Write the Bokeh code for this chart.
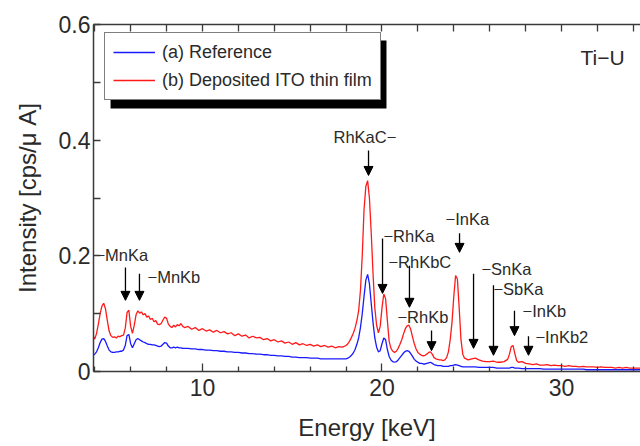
from bokeh.plotting import figure
from bokeh.models import (Range1d, LinearAxis, FixedTicker, Legend, LegendItem,
                          Label, Arrow, NormalHead, ColumnDataSource, BoxAnnotation)
from bokeh.core.properties import value
from bokeh.embed import file_html
from bokeh.resources import INLINE

# ---- XRF spectra (intensity in cps/uA), split into energy segments ----
energy_low = [3.9, 4.0, 4.1, 4.2, 4.3, 4.4, 4.5, 4.6, 4.7, 4.8,
              4.9, 5.0, 5.1, 5.2, 5.3, 5.4, 5.5, 5.6, 5.7, 5.8,
              5.9, 6.0, 6.1, 6.2, 6.3, 6.4, 6.5, 6.6, 6.7, 6.8,
              6.9, 7.0, 7.1, 7.2, 7.3, 7.4, 7.5, 7.6, 7.7, 7.8,
              7.9, 8.0, 8.1, 8.2, 8.3, 8.4, 8.5, 8.6, 8.7, 8.8,
              8.9, 9.0]
deposited_low = [0.062, 0.056, 0.066, 0.082, 0.100, 0.113, 0.118, 0.108, 0.088, 0.070,
                 0.062, 0.059, 0.060, 0.058, 0.061, 0.060, 0.062, 0.063, 0.075, 0.102,
                 0.106, 0.078, 0.066, 0.080, 0.098, 0.105, 0.101, 0.103, 0.098, 0.100,
                 0.094, 0.096, 0.090, 0.092, 0.086, 0.088, 0.082, 0.081, 0.083, 0.089,
                 0.094, 0.092, 0.082, 0.078, 0.076, 0.080, 0.077, 0.081, 0.079, 0.083,
                 0.078, 0.076]
reference_low = [0.027, 0.030, 0.034, 0.041, 0.050, 0.056, 0.057, 0.052, 0.044, 0.037,
                 0.034, 0.033, 0.033, 0.034, 0.034, 0.035, 0.035, 0.037, 0.045, 0.062,
                 0.064, 0.048, 0.041, 0.048, 0.055, 0.057, 0.055, 0.053, 0.051, 0.050,
                 0.048, 0.047, 0.047, 0.046, 0.046, 0.045, 0.044, 0.043, 0.044, 0.047,
                 0.050, 0.049, 0.044, 0.041, 0.041, 0.042, 0.041, 0.042, 0.041, 0.041,
                 0.040, 0.040]

energy_mid = [9.2, 9.4, 9.6, 9.8, 10.0, 10.2, 10.4, 10.6, 10.8, 11.0,
              11.2, 11.4, 11.6, 11.8, 12.0, 12.2, 12.4, 12.6, 12.8, 13.0,
              13.2, 13.4, 13.6, 13.8, 14.0, 14.2, 14.4, 14.6, 14.8, 15.0,
              15.2, 15.4, 15.6, 15.8, 16.0, 16.2, 16.4, 16.6, 16.8, 17.0,
              17.2, 17.4, 17.6, 17.8]
deposited_mid = [0.078, 0.073, 0.076, 0.071, 0.074, 0.070, 0.072, 0.068, 0.071, 0.067,
                 0.069, 0.065, 0.067, 0.062, 0.065, 0.061, 0.063, 0.058, 0.061, 0.058,
                 0.059, 0.055, 0.057, 0.053, 0.055, 0.051, 0.053, 0.049, 0.051, 0.047,
                 0.050, 0.046, 0.048, 0.045, 0.047, 0.044, 0.046, 0.043, 0.045, 0.042,
                 0.044, 0.041, 0.043, 0.042]
reference_mid = [0.040, 0.039, 0.039, 0.038, 0.038, 0.037, 0.037, 0.036, 0.036, 0.035,
                 0.035, 0.034, 0.034, 0.033, 0.033, 0.032, 0.032, 0.031, 0.031, 0.030,
                 0.030, 0.029, 0.029, 0.028, 0.028, 0.027, 0.027, 0.026, 0.026, 0.025,
                 0.025, 0.024, 0.024, 0.024, 0.023, 0.023, 0.023, 0.022, 0.022, 0.022,
                 0.022, 0.022, 0.022, 0.022]

energy_peaks = [18.0, 18.1, 18.2, 18.3, 18.4, 18.5, 18.6, 18.7, 18.8, 18.9,
                19.0, 19.1, 19.2, 19.3, 19.4, 19.5, 19.6, 19.7, 19.8, 19.9,
                20.0, 20.1, 20.2, 20.3, 20.4, 20.5, 20.6, 20.7, 20.8, 20.9,
                21.0, 21.1, 21.2, 21.3, 21.4, 21.5, 21.6, 21.7, 21.8, 21.9,
                22.0, 22.1, 22.2, 22.3, 22.4, 22.5, 22.6, 22.7, 22.8, 22.9,
                23.0, 23.1, 23.2, 23.3, 23.4, 23.5, 23.6, 23.7, 23.8, 23.9,
                24.0, 24.1, 24.2, 24.3, 24.4, 24.5]
deposited_peaks = [0.045, 0.048, 0.053, 0.059, 0.066, 0.075, 0.088, 0.105, 0.140, 0.200,
                   0.280, 0.320, 0.330, 0.300, 0.240, 0.170, 0.110, 0.080, 0.067, 0.078,
                   0.110, 0.134, 0.126, 0.088, 0.052, 0.040, 0.035, 0.033, 0.035, 0.040,
                   0.047, 0.055, 0.065, 0.074, 0.079, 0.080, 0.073, 0.060, 0.048, 0.039,
                   0.033, 0.030, 0.028, 0.027, 0.028, 0.030, 0.033, 0.034, 0.030, 0.024,
                   0.022, 0.021, 0.020, 0.020, 0.019, 0.020, 0.024, 0.034, 0.055, 0.085,
                   0.130, 0.166, 0.160, 0.110, 0.055, 0.030]
reference_peaks = [0.022, 0.023, 0.025, 0.028, 0.032, 0.038, 0.047, 0.058, 0.076, 0.100,
                   0.130, 0.158, 0.168, 0.152, 0.118, 0.085, 0.058, 0.042, 0.034, 0.036,
                   0.048, 0.058, 0.055, 0.038, 0.026, 0.020, 0.017, 0.016, 0.017, 0.020,
                   0.024, 0.028, 0.032, 0.035, 0.036, 0.035, 0.031, 0.026, 0.021, 0.018,
                   0.016, 0.014, 0.014, 0.013, 0.013, 0.014, 0.015, 0.016, 0.014, 0.012,
                   0.011, 0.010, 0.010, 0.010, 0.009, 0.009, 0.009, 0.009, 0.010, 0.010,
                   0.011, 0.012, 0.011, 0.010, 0.009, 0.008]

energy_high = [24.6, 24.8, 25.0, 25.2, 25.4, 25.6, 25.8, 26.0, 26.2, 26.4,
               26.6, 26.8, 27.0, 27.1, 27.2, 27.3, 27.4, 27.5, 27.6,
               27.8, 28.0, 28.2, 28.4, 28.6, 28.8, 29.0, 29.2, 29.4, 29.6,
               29.8, 30.0, 30.2, 30.4, 30.6, 30.8, 31.0, 31.2, 31.4, 31.6,
               31.8, 32.0, 32.2, 32.4, 32.6, 32.8, 33.0, 33.2, 33.4, 33.6,
               33.8, 34.0, 34.2, 34.4]
deposited_high = [0.023, 0.020, 0.022, 0.023, 0.020, 0.018, 0.017, 0.017, 0.018, 0.016,
                  0.016, 0.017, 0.021, 0.030, 0.043, 0.045, 0.031, 0.019, 0.016,
                  0.017, 0.014, 0.013, 0.012, 0.013, 0.011, 0.011, 0.012, 0.010, 0.011,
                  0.010, 0.010, 0.009, 0.010, 0.009, 0.009, 0.008, 0.009, 0.008, 0.008,
                  0.008, 0.007, 0.008, 0.007, 0.007, 0.007, 0.006, 0.007, 0.006, 0.007,
                  0.006, 0.006, 0.006, 0.006]
reference_high = [0.008, 0.008, 0.008, 0.008, 0.007, 0.007, 0.007, 0.007, 0.007, 0.006,
                  0.006, 0.006, 0.006, 0.006, 0.007, 0.007, 0.006, 0.006, 0.006,
                  0.005, 0.005, 0.005, 0.005, 0.005, 0.005, 0.004, 0.004, 0.004, 0.004,
                  0.004, 0.004, 0.004, 0.004, 0.004, 0.004, 0.004, 0.004, 0.003, 0.003,
                  0.003, 0.003, 0.003, 0.003, 0.003, 0.003, 0.003, 0.003, 0.003, 0.003,
                  0.003, 0.003, 0.003, 0.003]

energy_kev = energy_low + energy_mid + energy_peaks + energy_high
deposited_ito = deposited_low + deposited_mid + deposited_peaks + deposited_high
reference = reference_low + reference_mid + reference_peaks + reference_high
assert len(energy_kev) == len(deposited_ito) == len(reference)

# ---- peak identification: label text, arrow position and label anchor ----
peak_labels = ["\u2212MnKa", "\u2212MnKb", "RhKaC\u2212", "\u2212RhKa", "\u2212RhKbC",
               "\u2212RhKb", "\u2212InKa", "\u2212SnKa", "\u2212SbKa", "\u2212InKb",
               "\u2212InKb2"]
arrow_energy = [5.71, 6.49, 19.25, 20.03, 21.53, 22.76, 24.32, 25.10, 26.21, 27.38, 28.16]
arrow_top = [0.180, 0.169, 0.382, 0.230, 0.183, 0.071, 0.239, 0.169, 0.149, 0.105, 0.061]
arrow_tip = [0.123, 0.123, 0.339, 0.135, 0.111, 0.036, 0.206, 0.040, 0.028, 0.062, 0.028]
label_energy = [4.04, 6.94, 17.30, 20.08, 20.36, 20.86, 23.54, 25.54, 26.21, 27.83, 28.55]
label_level = [0.202, 0.164, 0.405, 0.235, 0.190, 0.095, 0.263, 0.178, 0.142, 0.105, 0.059]

x_ticks = [10, 20, 30]
x_minor_ticks = [4, 6, 8, 12, 14, 16, 18, 22, 24, 26, 28, 32, 34]
y_ticks = [0, 0.2, 0.4, 0.6]
y_tick_labels = ["0", "0.2", "0.4", "0.6"]
y_minor_ticks = [0.1, 0.3, 0.5]

FONT = "Liberation Sans"
AXIS_COLOR = "#3a3a3a"
TEXT_COLOR = "#2a2a2a"

p = figure(width=640, height=446, output_backend="svg", toolbar_location=None,
           x_range=Range1d(3.93, 34.4), y_range=Range1d(0, 0.6),
           min_border_left=93, min_border_right=0, min_border_top=24,
           min_border_bottom=75, x_axis_label="Energy [keV]",
           y_axis_label="Intensity [cps/\u03bc A]")
p.outline_line_color = None
p.xgrid.visible = False
p.ygrid.visible = False
p.background_fill_color = "white"
p.border_fill_color = "white"

# bottom axis
xa = p.xaxis[0]
xa.ticker = FixedTicker(ticks=x_ticks, minor_ticks=x_minor_ticks)
xa.major_tick_in = 8
xa.major_tick_out = 0
xa.minor_tick_in = 5
xa.minor_tick_out = 0
xa.major_label_standoff = 7
xa.axis_label_standoff = 15
xa.major_label_text_font = FONT
xa.major_label_text_font_size = "23px"
xa.major_label_text_color = TEXT_COLOR
xa.axis_label_text_font = FONT
xa.axis_label_text_font_size = "24px"
xa.axis_label_text_font_style = "normal"
xa.axis_label_text_color = TEXT_COLOR
xa.axis_line_color = AXIS_COLOR
xa.axis_line_width = 1.5
xa.major_tick_line_color = AXIS_COLOR
xa.minor_tick_line_color = AXIS_COLOR
xa.major_tick_line_width = 1.3
xa.minor_tick_line_width = 1.3

# left axis
ya = p.yaxis[0]
ya.ticker = FixedTicker(ticks=y_ticks, minor_ticks=y_minor_ticks)
ya.major_label_overrides = {t: s for t, s in zip(y_ticks, y_tick_labels)}
ya.major_tick_in = 7
ya.major_tick_out = 0
ya.minor_tick_in = 7
ya.minor_tick_out = 0
ya.major_label_standoff = 3
ya.axis_label_standoff = 15
ya.major_label_text_font = FONT
ya.major_label_text_font_size = "23px"
ya.major_label_text_color = TEXT_COLOR
ya.axis_label_text_font = FONT
ya.axis_label_text_font_size = "24px"
ya.axis_label_text_font_style = "normal"
ya.axis_label_text_color = TEXT_COLOR
ya.axis_line_color = AXIS_COLOR
ya.axis_line_width = 1.5
ya.major_tick_line_color = AXIS_COLOR
ya.minor_tick_line_color = AXIS_COLOR
ya.major_tick_line_width = 1.3
ya.minor_tick_line_width = 1.3

# top axis: unlabeled tick marks every 2 keV (drawn as minor ticks)
top = LinearAxis(ticker=FixedTicker(ticks=[], minor_ticks=sorted(x_ticks + x_minor_ticks)))
top.minor_tick_in = 7
top.minor_tick_out = 0
top.major_tick_line_color = None
top.major_label_standoff = 0
top.axis_line_color = AXIS_COLOR
top.axis_line_width = 1.5
top.minor_tick_line_color = AXIS_COLOR
top.minor_tick_line_width = 1.3
p.add_layout(top, "above")

# spectra
src = ColumnDataSource(dict(e=energy_kev, dep=deposited_ito, ref=reference))
r_ref = p.line("e", "ref", source=src, line_color="#1a1aff", line_width=1.3)
r_dep = p.line("e", "dep", source=src, line_color="#ff1a1a", line_width=1.3)

# peak arrows and labels
arrow_src = ColumnDataSource(dict(x0=arrow_energy, y0=arrow_top,
                                  x1=arrow_energy, y1=arrow_tip))
p.add_layout(Arrow(source=arrow_src, x_start="x0", y_start="y0", x_end="x1", y_end="y1",
                   line_color="black", line_width=1.3,
                   end=NormalHead(size=9, fill_color="black", line_color="black",
                                  line_width=1)))
label_src = ColumnDataSource(dict(x=label_energy, y=label_level, t=peak_labels))
p.text("x", "y", text="t", source=label_src, text_font=value(FONT),
       text_font_size="16.5px", text_color=TEXT_COLOR,
       text_align="left", text_baseline="middle")

# range identifier
p.add_layout(Label(x=31.06, y=0.543, text="Ti\u2212U", text_font=FONT,
                   text_font_size="21px", text_color=TEXT_COLOR,
                   text_align="left", text_baseline="middle"))

# legend with drop shadow
p.add_layout(BoxAnnotation(left=4.88, right=20.25, top=0.5724, bottom=0.4548,
                           fill_color="black", fill_alpha=1.0, line_color=None))
legend = Legend(items=[LegendItem(label="(a) Reference", renderers=[r_ref]),
                       LegendItem(label="(b) Deposited ITO thin film", renderers=[r_dep])],
                location=(11, 271), margin=0, padding=8, spacing=6,
                glyph_width=42, glyph_height=22, label_height=22, label_standoff=7,
                label_text_font=FONT, label_text_font_size="18px",
                label_text_color=TEXT_COLOR, border_line_color="black",
                border_line_width=1, background_fill_color="white",
                background_fill_alpha=1.0)
p.add_layout(legend, "center")

open("out.html", "w").write(file_html(p, INLINE))
